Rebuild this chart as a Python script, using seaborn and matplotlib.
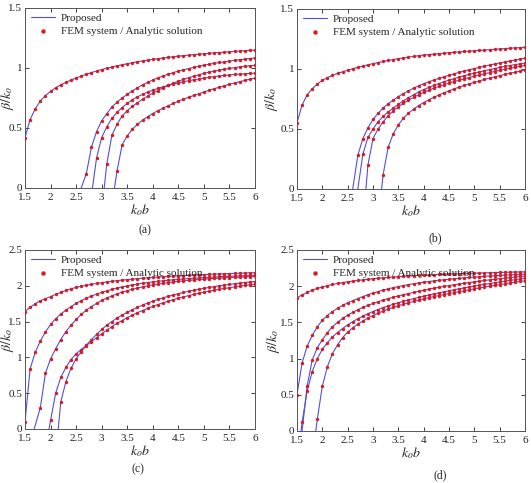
import matplotlib

matplotlib.use("Agg")
import matplotlib.pyplot as plt
import pandas as pd
import seaborn as sns
from matplotlib.lines import Line2D

# k_o b sample grid (step 0.1)
kb = [1.5, 1.6, 1.7, 1.8, 1.9, 2.0, 2.1, 2.2, 2.3, 2.4, 2.5, 2.6, 2.7, 2.8, 2.9,
      3.0, 3.1, 3.2, 3.3, 3.4, 3.5, 3.6, 3.7, 3.8, 3.9, 4.0, 4.1, 4.2, 4.3, 4.4,
      4.5, 4.6, 4.7, 4.8, 4.9, 5.0, 5.1, 5.2, 5.3, 5.4, 5.5, 5.6, 5.7, 5.8, 5.9, 6.0]

# cutoff of each mode (None = mode exists at 1.5); y lists start at the cutoff
a_cut = [None, 2.6, 2.82, 3.05, 3.25]
a_y1 = [0.42, 0.57, 0.66, 0.725, 0.77, 0.805, 0.835, 0.86, 0.88, 0.90, 0.917, 0.933,
        0.948, 0.962, 0.975, 0.987, 0.998, 1.008, 1.018, 1.027, 1.036, 1.044, 1.052,
        1.059, 1.066, 1.072, 1.078, 1.084, 1.089, 1.094, 1.099, 1.103, 1.107, 1.111,
        1.115, 1.119, 1.122, 1.126, 1.129, 1.132, 1.135, 1.138, 1.141, 1.144, 1.147, 1.15]
a_y2 = [0.0, 0.12, 0.34, 0.47, 0.56, 0.62, 0.675, 0.715, 0.75, 0.78, 0.81, 0.835, 0.86,
        0.88, 0.90, 0.918, 0.933, 0.948, 0.962, 0.974, 0.985, 0.995, 1.005, 1.014,
        1.023, 1.031, 1.039, 1.046, 1.052, 1.058, 1.064, 1.069, 1.074, 1.079, 1.084]
a_y3 = [0.0, 0.25, 0.42, 0.51, 0.58, 0.63, 0.67, 0.705, 0.735, 0.76, 0.78, 0.80, 0.815,
        0.83, 0.843, 0.855, 0.866, 0.876, 0.885, 0.894, 0.902, 0.909, 0.916, 0.922,
        0.928, 0.933, 0.938, 0.942, 0.946, 0.949, 0.952, 0.955, 0.957]
a_y4 = [0.0, 0.2, 0.44, 0.53, 0.6, 0.645, 0.68, 0.71, 0.74, 0.765, 0.79, 0.812, 0.835,
        0.855, 0.873, 0.89, 0.905, 0.919, 0.932, 0.944, 0.955, 0.965, 0.974, 0.982,
        0.99, 0.997, 1.003, 1.009, 1.014, 1.019, 1.023]
a_y5 = [0.0, 0.14, 0.36, 0.435, 0.49, 0.53, 0.565, 0.595, 0.62, 0.645, 0.665, 0.685,
        0.705, 0.723, 0.74, 0.756, 0.771, 0.785, 0.80, 0.814, 0.827, 0.84, 0.852,
        0.864, 0.875, 0.886, 0.897, 0.907, 0.917]

b_cut = [None, 2.6, 2.7, 2.86, 3.17]
b_y1 = [0.55, 0.70, 0.785, 0.835, 0.875, 0.905, 0.928, 0.948, 0.963, 0.977, 0.99, 1.002,
        1.013, 1.024, 1.035, 1.045, 1.054, 1.063, 1.071, 1.079, 1.087, 1.093, 1.099,
        1.105, 1.111, 1.116, 1.12, 1.124, 1.128, 1.132, 1.136, 1.139, 1.143, 1.146,
        1.149, 1.152, 1.155, 1.158, 1.161, 1.164, 1.167, 1.170, 1.173, 1.176, 1.178, 1.181]
b_y2 = [0.0, 0.28, 0.42, 0.51, 0.58, 0.63, 0.675, 0.71, 0.74, 0.77, 0.795, 0.818, 0.84,
        0.86, 0.877, 0.893, 0.908, 0.922, 0.935, 0.948, 0.96, 0.972, 0.983, 0.994,
        1.004, 1.014, 1.024, 1.033, 1.042, 1.051, 1.059, 1.067, 1.075, 1.083, 1.09]
b_y3 = [0.0, 0.29, 0.43, 0.5, 0.56, 0.605, 0.642, 0.675, 0.705, 0.735, 0.76, 0.785,
        0.808, 0.828, 0.846, 0.863, 0.879, 0.893, 0.907, 0.92, 0.932, 0.944, 0.955,
        0.966, 0.976, 0.986, 0.995, 1.004, 1.013, 1.021, 1.029, 1.036, 1.043, 1.05]
b_y4 = [0.0, 0.2, 0.42, 0.5, 0.56, 0.61, 0.65, 0.685, 0.713, 0.74, 0.763, 0.785, 0.805,
        0.823, 0.84, 0.855, 0.869, 0.882, 0.895, 0.907, 0.918, 0.929, 0.94, 0.95, 0.96,
        0.97, 0.979, 0.988, 0.997, 1.006, 1.014, 1.022, 1.03]
b_y5 = [0.0, 0.12, 0.35, 0.46, 0.535, 0.59, 0.632, 0.665, 0.695, 0.72, 0.743, 0.764,
        0.783, 0.801, 0.818, 0.834, 0.849, 0.863, 0.876, 0.889, 0.901, 0.913, 0.924,
        0.935, 0.945, 0.955, 0.964, 0.973, 0.982, 0.99]

c_cut = [None, None, 1.68, 1.97, 2.15]
c_y1 = [1.64, 1.70, 1.75, 1.79, 1.82, 1.85, 1.88, 1.91, 1.935, 1.958, 1.978, 1.994,
        2.008, 2.021, 2.033, 2.044, 2.054, 2.063, 2.072, 2.08, 2.087, 2.094, 2.1, 2.106,
        2.112, 2.117, 2.122, 2.127, 2.131, 2.135, 2.139, 2.143, 2.147, 2.15, 2.154,
        2.157, 2.16, 2.163, 2.166, 2.169, 2.171, 2.174, 2.176, 2.179, 2.181, 2.183]
c_y2 = [0.1, 0.84, 1.07, 1.23, 1.355, 1.46, 1.54, 1.605, 1.66, 1.71, 1.755, 1.793, 1.827,
        1.857, 1.884, 1.908, 1.93, 1.95, 1.968, 1.984, 1.999, 2.012, 2.024, 2.035,
        2.045, 2.054, 2.062, 2.07, 2.077, 2.084, 2.09, 2.096, 2.101, 2.106, 2.111,
        2.115, 2.119, 2.123, 2.127, 2.13, 2.133, 2.136, 2.139, 2.142, 2.145, 2.147]
c_y3 = [0.0, 0.3, 0.78, 0.98, 1.12, 1.25, 1.36, 1.45, 1.53, 1.60, 1.66, 1.71, 1.755,
        1.795, 1.83, 1.86, 1.887, 1.911, 1.933, 1.952, 1.97, 1.986, 2.0, 2.013, 2.025,
        2.035, 2.045, 2.054, 2.062, 2.069, 2.076, 2.082, 2.088, 2.093, 2.098, 2.103,
        2.107, 2.111, 2.115, 2.118, 2.121, 2.124, 2.127, 2.13]
c_y4 = [0.0, 0.12, 0.5, 0.72, 0.86, 0.97, 1.05, 1.11, 1.165, 1.22, 1.275, 1.33, 1.38,
        1.43, 1.475, 1.515, 1.555, 1.59, 1.625, 1.655, 1.685, 1.712, 1.738, 1.762, 1.785,
        1.806, 1.826, 1.845, 1.863, 1.88, 1.896, 1.911, 1.925, 1.938, 1.951, 1.963,
        1.974, 1.985, 1.995, 2.005, 2.014, 2.023]
c_y5 = [0.0, 0.38, 0.66, 0.85, 0.98, 1.08, 1.17, 1.25, 1.32, 1.39, 1.45, 1.50, 1.55,
        1.59, 1.63, 1.665, 1.70, 1.73, 1.76, 1.785, 1.81, 1.832, 1.853, 1.872, 1.89,
        1.907, 1.923, 1.938, 1.952, 1.965, 1.977, 1.989, 2.0, 2.01, 2.02, 2.029, 2.038,
        2.046, 2.054, 2.06]

d_cut = [None, None, 1.6, 1.58, 1.87]
d_y1 = [1.84, 1.88, 1.915, 1.945, 1.97, 1.99, 2.008, 2.024, 2.038, 2.05, 2.061, 2.071,
        2.08, 2.088, 2.096, 2.103, 2.11, 2.116, 2.122, 2.127, 2.132, 2.137, 2.141, 2.145,
        2.149, 2.153, 2.156, 2.159, 2.162, 2.165, 2.168, 2.171, 2.173, 2.176, 2.178,
        2.18, 2.182, 2.184, 2.186, 2.188, 2.19, 2.192, 2.194, 2.196, 2.197, 2.199]
d_y2 = [0.5, 0.94, 1.17, 1.32, 1.44, 1.53, 1.595, 1.65, 1.695, 1.735, 1.77, 1.80, 1.83,
        1.857, 1.882, 1.905, 1.926, 1.946, 1.964, 1.98, 1.995, 2.009, 2.022, 2.034,
        2.045, 2.055, 2.064, 2.073, 2.081, 2.089, 2.096, 2.103, 2.109, 2.115, 2.121,
        2.126, 2.131, 2.136, 2.141, 2.145, 2.149, 2.153, 2.157, 2.161, 2.164, 2.168]
d_y3 = [0.0, 0.62, 0.98, 1.15, 1.26, 1.36, 1.44, 1.5, 1.555, 1.6, 1.64, 1.675, 1.707,
        1.736, 1.762, 1.786, 1.808, 1.829, 1.848, 1.866, 1.883, 1.899, 1.914, 1.928,
        1.945, 1.959, 1.972, 1.985, 1.997, 2.009, 2.02, 2.031, 2.041, 2.051, 2.061,
        2.07, 2.079, 2.088, 2.096, 2.104, 2.112, 2.12, 2.127, 2.134, 2.141]
d_y4 = [0.0, 0.12, 0.55, 0.82, 1.0, 1.13, 1.22, 1.3, 1.36, 1.415, 1.465, 1.51, 1.55,
        1.587, 1.62, 1.65, 1.678, 1.704, 1.728, 1.75, 1.771, 1.791, 1.81, 1.828, 1.845,
        1.861, 1.877, 1.893, 1.908, 1.923, 1.937, 1.951, 1.964, 1.977, 1.99, 2.002,
        2.014, 2.026, 2.037, 2.048, 2.059, 2.07, 2.08, 2.09, 2.1, 2.11]
d_y5 = [0.0, 0.16, 0.62, 0.89, 1.07, 1.19, 1.29, 1.365, 1.425, 1.475, 1.52, 1.56,
        1.595, 1.627, 1.656, 1.683, 1.707, 1.73, 1.751, 1.771, 1.79, 1.808, 1.825,
        1.841, 1.856, 1.871, 1.885, 1.899, 1.912, 1.925, 1.937, 1.949, 1.965, 1.977,
        1.989, 2.0, 2.011, 2.022, 2.033, 2.044, 2.055, 2.065, 2.075]

panels = {
    "a": (a_cut, [a_y1, a_y2, a_y3, a_y4, a_y5], 1.5),
    "b": (b_cut, [b_y1, b_y2, b_y3, b_y4, b_y5], 1.5),
    "c": (c_cut, [c_y1, c_y2, c_y3, c_y4, c_y5], 2.5),
    "d": (d_cut, [d_y1, d_y2, d_y3, d_y4, d_y5], 2.5),
}


def curve_frame(cuts, ys):
    rows = []
    for mode, (cut, y) in enumerate(zip(cuts, ys)):
        if cut is None or cut in kb:
            xs = kb[len(kb) - len(y):]
        else:
            xs = [cut] + kb[len(kb) - len(y) + 1:]
        for xv, yv in zip(xs, y):
            rows.append({"mode": mode, "kb": xv, "beta": yv})
    return pd.DataFrame(rows)


sns.set_theme(style="ticks")
plt.rcParams["font.family"] = ["Liberation Serif", "DejaVu Serif"]
plt.rcParams["mathtext.fontset"] = "stix"

line_color = "#5050dc"
dot_color = "#e01818"

fig = plt.figure(figsize=(5.31, 4.83), dpi=100)
W, H = 531, 483
# axes boxes in pixels: left, top, right, bottom
boxes = {
    "a": (25, 8, 255, 188),
    "b": (297, 9, 525, 189),
    "c": (25, 250, 255, 429),
    "d": (297, 250, 525, 431),
}
# pixel centres of the ylabel (x) and of the panel caption (x, y)
ylabel_x = {"a": 8, "b": 272, "c": 8, "d": 273}
caption_xy = {"a": (145, 230), "b": (435, 238), "c": (138, 469), "d": (440, 475)}

for name, (cuts, ys, ymax) in panels.items():
    l, t, r, b = boxes[name]
    ax = fig.add_axes([l / W, 1 - b / H, (r - l) / W, (b - t) / H])
    df = curve_frame(cuts, ys)
    sns.lineplot(data=df, x="kb", y="beta", units="mode", estimator=None,
                 color=line_color, lw=0.8, ax=ax, legend=False)
    dots = df[df["beta"] > 0]
    sns.scatterplot(data=dots, x="kb", y="beta", color=dot_color, s=6,
                    linewidth=0, ax=ax, legend=False, zorder=3)
    ax.set_xlim(1.5, 6)
    ax.set_ylim(0, ymax)
    ax.set_xticks([1.5, 2, 2.5, 3, 3.5, 4, 4.5, 5, 5.5, 6])
    ax.set_xticklabels(["1.5", "2", "2.5", "3", "3.5", "4", "4.5", "5", "5.5", "6"])
    yt = [0, 0.5, 1, 1.5] if ymax == 1.5 else [0, 0.5, 1, 1.5, 2, 2.5]
    ax.set_yticks(yt)
    ax.set_yticklabels([f"{v:g}" for v in yt])
    ax.tick_params(direction="in", top=True, right=True, labelsize=8, length=3,
                   width=0.6, pad=2, colors="#222222")
    ax.tick_params(axis="x", pad=3.5)
    for sp in ax.spines.values():
        sp.set_linewidth(0.7)
        sp.set_color("#555555")
    ax.set_xlabel("$k_o b$", fontsize=10, labelpad=0)
    ax.set_ylabel(r"$\beta/k_o$", fontsize=10, va="center")
    ax.yaxis.set_label_coords((ylabel_x[name] - l) / (r - l), 0.5)
    cx, cy = caption_xy[name]
    fig.text(cx / W, 1 - cy / H, f"({name})", ha="center", va="center",
             fontsize=8.5)
    handles = [
        Line2D([], [], color=line_color, lw=0.8, label="Proposed"),
        Line2D([], [], color=dot_color, marker="o", ms=2.2, lw=0,
               label="FEM system / Analytic solution"),
    ]
    ax.legend(handles=handles, loc="upper left", frameon=False, fontsize=8,
              handlelength=2.2, borderaxespad=0.1, labelspacing=0.3,
              handletextpad=0.5)

fig.savefig("out.png", dpi=100)
